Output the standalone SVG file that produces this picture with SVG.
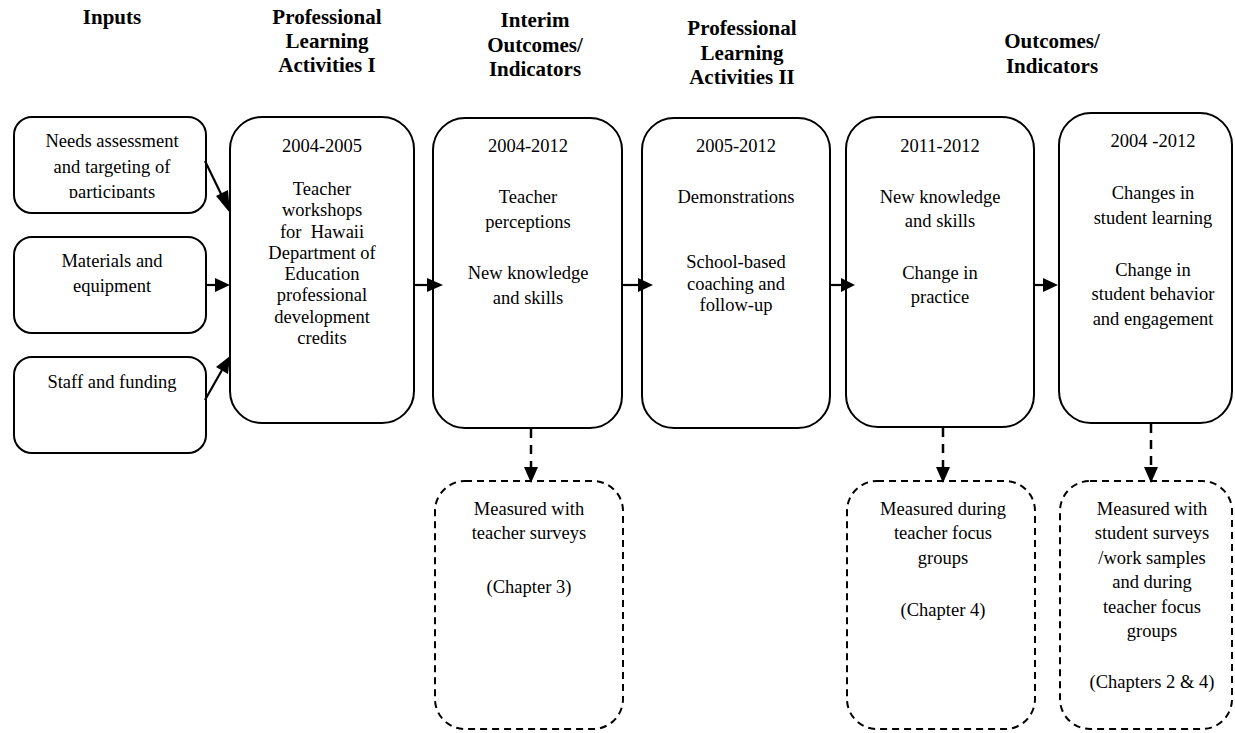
<svg xmlns="http://www.w3.org/2000/svg" width="1235" height="733" viewBox="0 0 1235 733" font-family="'Liberation Serif', 'Times New Roman', Tinos, 'DejaVu Serif', serif">
<style>
.b{fill:#fff;stroke:#000;stroke-width:2}
.d{fill:#fff;stroke:#000;stroke-width:2;stroke-dasharray:7,5}
text{font-family:'Liberation Serif','Times New Roman',Tinos,'DejaVu Serif',serif;font-size:18.5px;fill:#000;text-anchor:middle}
.h{font-weight:bold;font-size:21px}
.c{stroke:#000;stroke-width:2.2;fill:none}
.cd{stroke:#000;stroke-width:2.5;fill:none;stroke-dasharray:9,7}
.a{fill:#000;stroke:none}
</style>
<defs>
<clipPath id="clip1"><rect x="14" y="117" width="192" height="81"/></clipPath>
</defs>
<g id="headers">
<text class="h" x="112" y="24">Inputs</text>
<text class="h" x="327" y="24">Professional</text>
<text class="h" x="327" y="48">Learning</text>
<text class="h" x="327" y="72">Activities I</text>
<text class="h" x="535" y="27">Interim</text>
<text class="h" x="535" y="52">Outcomes/</text>
<text class="h" x="535" y="76">Indicators</text>
<text class="h" x="742" y="35">Professional</text>
<text class="h" x="742" y="60">Learning</text>
<text class="h" x="742" y="84">Activities II</text>
<text class="h" x="1052" y="48">Outcomes/</text>
<text class="h" x="1052" y="73">Indicators</text>
</g>
<g id="in1">
<rect class="b" x="14" y="117" width="192" height="96" rx="18"/>
<g clip-path="url(#clip1)">
<text x="112" y="147">Needs assessment</text>
<text x="112" y="173">and targeting of</text>
<text x="112" y="198">participants</text>
</g>
</g>
<g id="in2">
<rect class="b" x="14" y="237" width="192" height="96" rx="18"/>
<text x="112" y="267">Materials and</text>
<text x="112" y="292">equipment</text>
</g>
<g id="in3">
<rect class="b" x="14" y="357" width="192" height="96" rx="18"/>
<text x="112" y="388">Staff and funding</text>
</g>
<g id="pla1">
<rect class="b" x="230" y="117" width="184" height="306" rx="32"/>
<text x="322" y="152">2004-2005</text>
<text x="322" y="195">Teacher</text>
<text x="322" y="216">workshops</text>
<text x="322" y="238" xml:space="preserve">for  Hawaii</text>
<text x="322" y="259">Department of</text>
<text x="322" y="280">Education</text>
<text x="322" y="301">professional</text>
<text x="322" y="323">development</text>
<text x="322" y="344">credits</text>
</g>
<g id="interim">
<rect class="b" x="433" y="118" width="189" height="310" rx="32"/>
<text x="528" y="152">2004-2012</text>
<text x="528" y="203">Teacher</text>
<text x="528" y="228">perceptions</text>
<text x="528" y="279">New knowledge</text>
<text x="528" y="304">and skills</text>
</g>
<g id="pla2">
<rect class="b" x="642" y="118" width="188" height="310" rx="32"/>
<text x="736" y="152">2005-2012</text>
<text x="736" y="203">Demonstrations</text>
<text x="736" y="268">School-based</text>
<text x="736" y="290">coaching and</text>
<text x="736" y="311">follow-up</text>
</g>
<g id="out1">
<rect class="b" x="846" y="117" width="188" height="310" rx="32"/>
<text x="940" y="152">2011-2012</text>
<text x="940" y="203">New knowledge</text>
<text x="940" y="227">and skills</text>
<text x="940" y="279">Change in</text>
<text x="940" y="303">practice</text>
</g>
<g id="out2">
<rect class="b" x="1059" y="113" width="173" height="310" rx="32"/>
<text x="1153" y="147">2004 -2012</text>
<text x="1153" y="199">Changes in</text>
<text x="1153" y="224">student learning</text>
<text x="1153" y="276">Change in</text>
<text x="1153" y="300">student behavior</text>
<text x="1153" y="325">and engagement</text>
</g>
<g id="m1">
<rect class="d" x="435" y="481" width="188" height="248" rx="30"/>
<text x="529" y="515">Measured with</text>
<text x="529" y="539">teacher surveys</text>
<text x="529" y="593">(Chapter 3)</text>
</g>
<g id="m2">
<rect class="d" x="847" y="481" width="188" height="248" rx="30"/>
<text x="943" y="515">Measured during</text>
<text x="943" y="539">teacher focus</text>
<text x="943" y="564">groups</text>
<text x="943" y="616">(Chapter 4)</text>
</g>
<g id="m3">
<rect class="d" x="1060" y="481" width="172" height="248" rx="30"/>
<text x="1152" y="515">Measured with</text>
<text x="1152" y="539">student surveys</text>
<text x="1152" y="564">/work samples</text>
<text x="1152" y="588">and during</text>
<text x="1152" y="613">teacher focus</text>
<text x="1152" y="637">groups</text>
<text x="1152" y="688">(Chapters 2 &amp; 4)</text>
</g>
<g id="connectors">
<line class="c" x1="205" y1="161" x2="223" y2="198"/>
<polygon class="a" points="230,213 216,196 228,190"/>
<line class="c" x1="206" y1="285" x2="217" y2="285"/>
<polygon class="a" points="230,285 215,278 215,292"/>
<line class="c" x1="205" y1="400" x2="222" y2="370"/>
<polygon class="a" points="230,356 228,374 216,367"/>
<line class="c" x1="414" y1="285" x2="428" y2="285"/>
<polygon class="a" points="443,285 427,278 427,292"/>
<line class="c" x1="622" y1="285" x2="639" y2="285"/>
<polygon class="a" points="653,285 638,278 638,292"/>
<line class="c" x1="830" y1="285" x2="841" y2="285"/>
<polygon class="a" points="855,285 841,278 841,292"/>
<line class="c" x1="1034" y1="285" x2="1044" y2="285"/>
<polygon class="a" points="1058,285 1043,278 1043,292"/>
<line class="cd" x1="531" y1="429" x2="531" y2="468"/>
<polygon class="a" points="531,483 524,467 538,467"/>
<line class="cd" x1="943" y1="428" x2="943" y2="468"/>
<polygon class="a" points="943,483 936,467 950,467"/>
<line class="cd" x1="1151" y1="424" x2="1151" y2="468"/>
<polygon class="a" points="1151,483 1144,467 1158,467"/>
</g>
</svg>
